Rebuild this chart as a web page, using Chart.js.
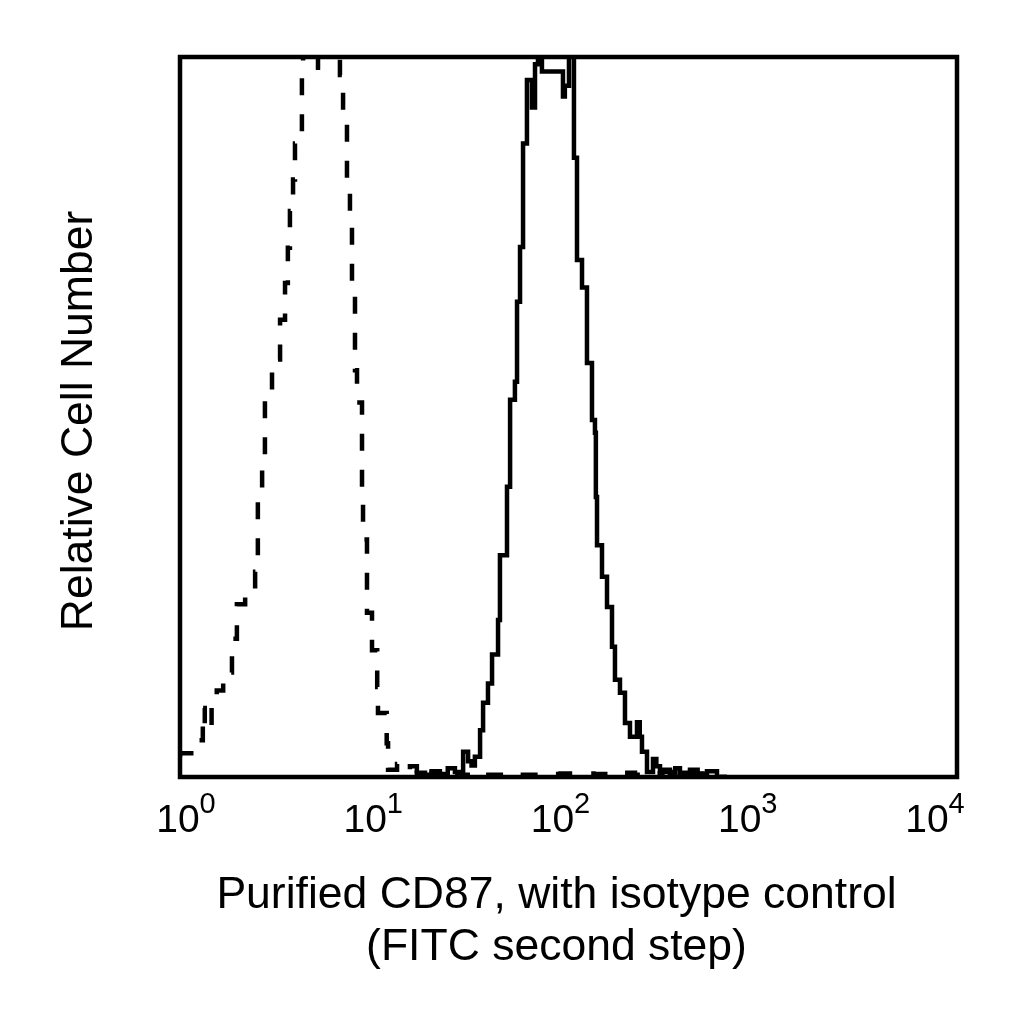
<!doctype html>
<html lang="en">
  <head>
    <meta charset="UTF-8" />
    <title>Purified CD87 histogram</title>
    <script src="https://cdn.jsdelivr.net/npm/chart.js"></script>
    <style>
      body {
        margin: 0;
        background: #fff;
      }
      canvas {
        display: block;
      }
    </style>
  </head>
  <body>
    <canvas id="myChart" width="1024" height="1024"></canvas>

    <script>
      // decades shown under the x axis (10^0 .. 10^4)
      const tickExponents = [0, 1, 2, 3, 4];
      const xTitleLines = ["Purified CD87, with isotype control", "(FITC second step)"];
      const yTitle = "Relative Cell Number";

      // isotype control (dashed), fluorescence and relative count
      const isotypeX = [0.93, 1.12, 1.23, 1.26, 1.37, 1.46, 1.58, 1.76, 1.87, 2.07, 2.34, 2.42, 2.55, 2.64, 2.88,
        3.18, 3.38, 3.5, 3.59, 3.73, 3.82, 4.16, 4.22, 4.43, 5.07, 5.32, 5.5, 6.64, 6.9, 7.24, 7.51, 7.7, 7.99,
        8.19, 8.71, 8.82, 9.26, 9.85, 10.5, 10.6, 11.8, 12.0, 13.4, 14.4, 15.7, 17.1, 18.9, 20.5, 22.7, 25, 27.3,
        30, 35, 40, 50, 60, 80, 100, 150, 200, 250, 300, 350, 435, 491, 606, 685, 775];
      const isotypeY = [2.8, 3.3, 5.1, 9.6, 6.5, 11, 12, 14.5, 19.2, 24, 25, 28.5, 38.5, 43.3, 52.5,
        58, 63.5, 68.6, 73.5, 78.6, 83, 88, 98, 104, 103, 98.5, 104, 102, 97.5, 92, 83, 78, 68,
        56.5, 52, 38, 33, 22.8, 17.6, 12.5, 8.9, 4.7, 1, 1.8, 1, 1.5, 0.5, 1, 0.4, 0.8, 0.3,
        0.6, 0.3, 0.5, 0.3, 0.4, 0.3, 0.4, 0.5, 0.4, 0.6, 0.3, 0.5, 0.7, 0.3, 0.5, 0.2, 0];

      // purified CD87 (solid)
      const cd87X = [17.1, 18.9, 20.5, 22.7, 25, 27.3, 30.2, 32.1, 33.5, 34.9, 37.2, 38.6, 41.0, 43.1, 46.4,
        47.5, 51.8, 53.8, 57.1, 58.6, 60.8, 63.1, 66.2, 70.4, 73.1, 75.8, 79.6, 103.1, 105.5, 111, 118, 122.5,
        130.3, 138.5, 147.3, 152.8, 154.5, 156.7, 166.6, 177.2, 188.4, 195.4, 207.8, 221, 235, 256.2, 265,
        272.4, 289.7, 311.9, 325, 339.9, 384.3, 410, 434.6, 491.4, 540, 605.8, 685, 774.6];
      const cd87Y = [0, 0.6, 0.3, 0.8, 0.4, 1.2, 0.7, 3.5, 2.2, 1.6, 2.8, 6.5, 10.3, 13, 17,
        21.8, 30.8, 40.3, 52.4, 54.9, 66, 73.6, 88, 96.8, 93, 99, 106, 98, 94.5, 96, 104, 86,
        71.8, 68, 57.5, 49.6, 47.8, 38.9, 32.2, 27.8, 23.6, 18.1, 13.5, 11.7, 7.5, 5.6, 7.6,
        5.6, 3.5, 0.7, 2.5, 1.5, 1, 0.4, 1.2, 0.6, 1, 0.4, 0.8, 0];

      const toPoints = (xs, ys) => xs.map((x, i) => ({ x: x, y: ys[i] }));

      const FONT = "'Liberation Sans', Arial, sans-serif";

      // frame, superscript tick labels and axis titles
      const decorations = {
        id: "decorations",
        afterDraw(chart) {
          const ctx = chart.ctx;
          const area = chart.chartArea;
          const xScale = chart.scales.x;

          ctx.save();
          ctx.strokeStyle = "#000";
          ctx.lineWidth = 4.5;
          ctx.strokeRect(area.left, area.top, area.right - area.left, area.bottom - area.top);

          ctx.fillStyle = "#000";
          ctx.textBaseline = "alphabetic";
          tickExponents.forEach((e) => {
            const px = xScale.getPixelForValue(Math.pow(10, e));
            ctx.font = "39px " + FONT;
            const baseW = ctx.measureText("10").width;
            ctx.font = "29px " + FONT;
            const supW = ctx.measureText(String(e)).width;
            const start = px - (baseW + supW) / 2;
            ctx.font = "39px " + FONT;
            ctx.textAlign = "left";
            ctx.fillText("10", start, 832);
            ctx.font = "29px " + FONT;
            ctx.fillText(String(e), start + baseW, 813);
          });

          ctx.font = "44.5px " + FONT;
          ctx.textAlign = "center";
          const titleX = (area.left + area.right) / 2 - 12;
          ctx.fillText(xTitleLines[0], titleX, 908);
          ctx.fillText(xTitleLines[1], titleX, 960);

          ctx.translate(92, (area.top + area.bottom) / 2 + 4);
          ctx.rotate(-Math.PI / 2);
          ctx.fillText(yTitle, 0, 0);
          ctx.restore();
        },
      };

      const ctx = document.getElementById("myChart").getContext("2d");
      const myChart = new Chart(ctx, {
        type: "line",
        data: {
          datasets: [
            {
              label: "Isotype control",
              data: toPoints(isotypeX, isotypeY),
              borderColor: "#000",
              borderWidth: 4.5,
              borderDash: [17, 19],
              stepped: "after",
              pointRadius: 0,
              fill: false,
            },
            {
              label: "Purified CD87",
              data: toPoints(cd87X, cd87Y),
              borderColor: "#000",
              borderWidth: 4.5,
              stepped: "after",
              pointRadius: 0,
              fill: false,
            },
          ],
        },
        options: {
          responsive: false,
          animation: false,
          devicePixelRatio: 1,
          layout: {
            padding: { left: 180, right: 67, top: 57, bottom: 247 },
          },
          plugins: {
            legend: { display: false },
            tooltip: { enabled: false },
          },
          scales: {
            x: {
              type: "logarithmic",
              min: 0.929,
              max: 13108,
              display: false,
            },
            y: {
              min: 0,
              max: 100,
              display: false,
            },
          },
        },
        plugins: [decorations],
      });
    </script>
  </body>
</html>
